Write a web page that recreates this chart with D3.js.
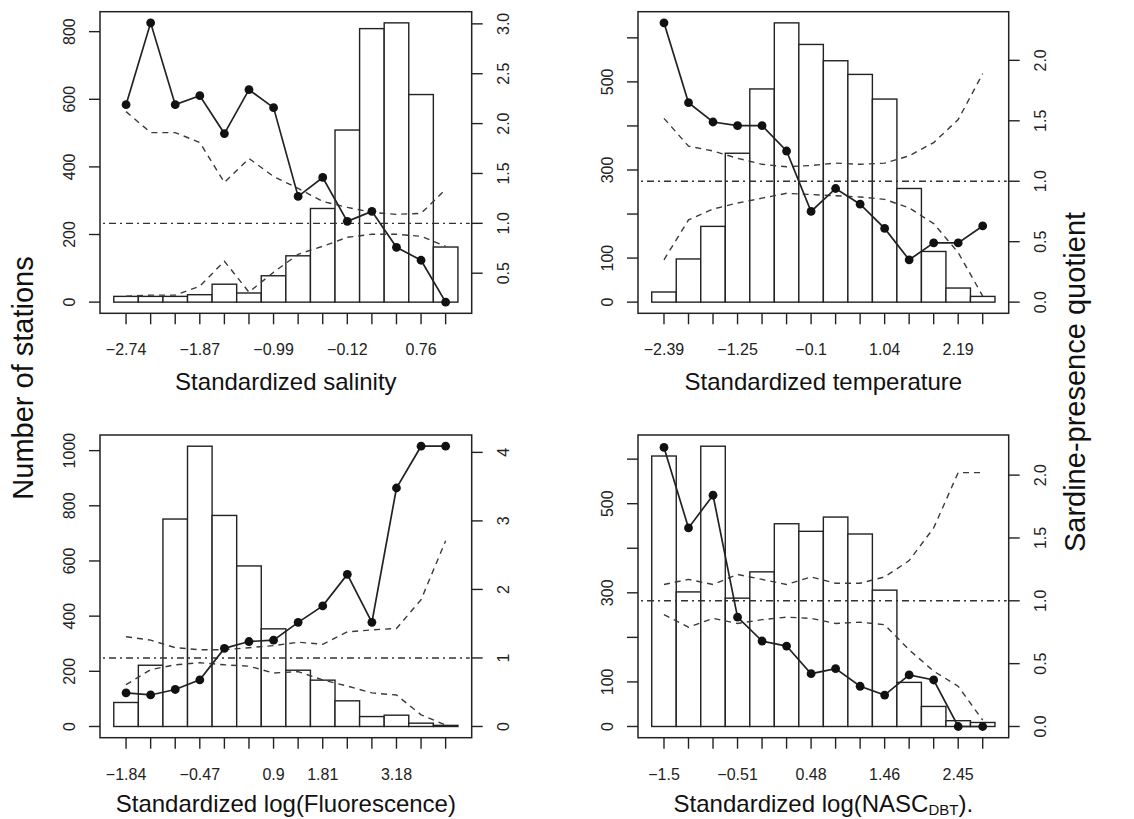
<!DOCTYPE html>
<html lang="en">
<head>
<meta charset="UTF-8">
<title>Sardine-presence quotient</title>
<script src="https://d3js.org/d3.v7.min.js"></script>
<style>
  body { margin: 0; background: #fff; }
  svg { font-family: "Liberation Sans", Arial, Helvetica, sans-serif; }
</style>
</head>
<body>
<div id="chart"></div>
<script>
// ---- data ----
// salinity
const salTicks = [-2.74, -2.45, -2.16, -1.87, -1.58, -1.29, -0.99, -0.70, -0.41, -0.12, 0.17, 0.47, 0.76, 1.05];
const salLabels = ["−2.74", "", "", "−1.87", "", "", "−0.99", "", "", "−0.12", "", "", "0.76", ""];
const salCounts = [17, 17, 17, 22, 53, 27, 78, 137, 277, 509, 809, 826, 614, 163];
const salQuot = [2.19, 3.01, 2.19, 2.28, 1.90, 2.34, 2.16, 1.27, 1.46, 1.02, 1.12, 0.76, 0.63, 0.21];
const salUpper = [2.12, 1.91, 1.91, 1.81, 1.41, 1.65, 1.47, 1.35, 1.22, 1.16, 1.11, 1.09, 1.10, 1.34];
const salLower = [0.27, 0.28, 0.28, 0.37, 0.62, 0.31, 0.51, 0.69, 0.77, 0.86, 0.89, 0.89, 0.87, 0.77];

// temperature
const tempTicks = [-2.39, -2.01, -1.63, -1.25, -0.87, -0.48, -0.10, 0.28, 0.66, 1.04, 1.42, 1.81, 2.19, 2.57];
const tempLabels = ["−2.39", "", "", "−1.25", "", "", "−0.1", "", "", "1.04", "", "", "2.19", ""];
const tempCounts = [23, 98, 172, 338, 484, 634, 585, 548, 517, 461, 258, 115, 32, 13];
const tempQuot = [2.31, 1.65, 1.49, 1.46, 1.46, 1.25, 0.75, 0.94, 0.81, 0.61, 0.35, 0.49, 0.49, 0.63];
const tempUpper = [1.52, 1.29, 1.25, 1.19, 1.14, 1.12, 1.13, 1.15, 1.14, 1.15, 1.21, 1.32, 1.51, 1.89];
const tempLower = [0.35, 0.68, 0.77, 0.82, 0.86, 0.90, 0.89, 0.88, 0.87, 0.85, 0.78, 0.65, 0.41, 0.05];

// fluorescence
const fluTicks = [-1.84, -1.38, -0.93, -0.47, -0.01, 0.44, 0.90, 1.36, 1.81, 2.27, 2.73, 3.18, 3.64, 4.10];
const fluLabels = ["−1.84", "", "", "−0.47", "", "", "0.9", "", "1.81", "", "", "3.18", "", ""];
const fluCounts = [87, 222, 752, 1016, 765, 582, 354, 204, 168, 93, 36, 41, 12, 4];
const fluQuot = [0.49, 0.46, 0.54, 0.68, 1.14, 1.24, 1.26, 1.52, 1.76, 2.22, 1.52, 3.48, 4.09, 4.09];
const fluUpper = [1.31, 1.26, 1.15, 1.12, 1.12, 1.15, 1.18, 1.23, 1.20, 1.38, 1.41, 1.43, 1.85, 2.71];
const fluLower = [0.61, 0.83, 0.90, 0.93, 0.90, 0.88, 0.78, 0.80, 0.68, 0.59, 0.49, 0.46, 0.17, 0.02];

// NASC
const nascTicks = [-1.50, -1.17, -0.84, -0.51, -0.18, 0.15, 0.48, 0.81, 1.13, 1.46, 1.79, 2.12, 2.45, 2.78];
const nascLabels = ["−1.5", "", "", "−0.51", "", "", "0.48", "", "", "1.46", "", "", "2.45", ""];
const nascCounts = [607, 302, 629, 288, 347, 455, 438, 470, 432, 306, 99, 45, 13, 9];
const nascQuot = [2.22, 1.58, 1.84, 0.87, 0.68, 0.64, 0.42, 0.46, 0.32, 0.25, 0.41, 0.37, 0.0, 0.0];
const nascUpper = [1.13, 1.17, 1.13, 1.21, 1.17, 1.13, 1.19, 1.14, 1.14, 1.19, 1.32, 1.58, 2.02, 2.02];
const nascLower = [0.89, 0.79, 0.86, 0.82, 0.85, 0.87, 0.86, 0.82, 0.83, 0.81, 0.61, 0.44, 0.32, 0.05];

// left (count) axis ticks and right (quotient) axis ticks
const countTicksA = [0, 200, 400, 600, 800];
const countTicksB = [0, 100, 200, 300, 400, 500, 600];
const countLabelsB = ["0", "100", "", "300", "", "500", ""];
const countTicksC = [0, 200, 400, 600, 800, 1000];
const quotTicksA = [0.5, 1.0, 1.5, 2.0, 2.5, 3.0];
const quotTicksB = [0.0, 0.5, 1.0, 1.5, 2.0];
const quotTicksC = [0, 1, 2, 3, 4];

const width = 1134, height = 819;
const ink = "#222";

const svg = d3.select("#chart").append("svg")
    .attr("width", width)
    .attr("height", height);

// R style axis range: data range stretched 4% each side
function rRange(lo, hi) {
    const e = (hi - lo) * 0.04;
    return [lo - e, hi + e];
}

function drawPanel(p) {
    const g = svg.append("g");
    const n = p.counts.length;

    const x = d3.scaleLinear()
        .domain(rRange(-0.5, n - 0.5))
        .range([p.left, p.right]);
    const yL = d3.scaleLinear()
        .domain(rRange(0, d3.max(p.counts)))
        .range([p.bottom, p.top]);
    const yR = d3.scaleLinear()
        .domain(rRange(p.quotLim[0], p.quotLim[1]))
        .range([p.bottom, p.top]);

    // histogram bars
    g.selectAll("rect.bar")
        .data(p.counts)
        .join("rect")
        .attr("class", "bar")
        .attr("x", (d, i) => x(i - 0.5))
        .attr("width", (d, i) => x(i + 0.5) - x(i - 0.5))
        .attr("y", d => yL(d))
        .attr("height", d => yL(0) - yL(d))
        .attr("fill", "#fff")
        .attr("stroke", ink)
        .attr("stroke-width", 1.4);

    // reference line at quotient = 1
    g.append("line")
        .attr("x1", p.left + 3).attr("x2", p.right - 2)
        .attr("y1", yR(1)).attr("y2", yR(1))
        .attr("stroke", "#333")
        .attr("stroke-width", 1.4)
        .attr("stroke-dasharray", "2,4,7,4");

    // confidence limits
    const line = d3.line().x((d, i) => x(i)).y(d => yR(d));
    [p.upper, p.lower].forEach(arr => {
        g.append("path")
            .attr("d", line(arr))
            .attr("fill", "none")
            .attr("stroke", "#3a3a3a")
            .attr("stroke-width", 1.4)
            .attr("stroke-dasharray", "6,5");
    });

    // quotient line + points
    g.append("path")
        .attr("d", line(p.quot))
        .attr("fill", "none")
        .attr("stroke", ink)
        .attr("stroke-width", 1.7);
    g.selectAll("circle")
        .data(p.quot)
        .join("circle")
        .attr("cx", (d, i) => x(i))
        .attr("cy", d => yR(d))
        .attr("r", 4.4)
        .attr("fill", "#111");

    // box
    g.append("rect")
        .attr("x", p.left).attr("y", p.top)
        .attr("width", p.right - p.left)
        .attr("height", p.bottom - p.top)
        .attr("fill", "none")
        .attr("stroke", ink)
        .attr("stroke-width", 1.5);

    const tickLen = 11;

    // x axis
    g.selectAll("line.xt")
        .data(p.ticks)
        .join("line")
        .attr("class", "xt")
        .attr("x1", (d, i) => x(i)).attr("x2", (d, i) => x(i))
        .attr("y1", p.bottom).attr("y2", p.bottom + tickLen)
        .attr("stroke", ink).attr("stroke-width", 1.4);
    g.selectAll("text.xl")
        .data(p.labels)
        .join("text")
        .attr("class", "xl")
        .attr("x", (d, i) => x(i))
        .attr("y", p.bottom + 42)
        .attr("text-anchor", "middle")
        .attr("font-size", 16)
        .attr("fill", ink)
        .text(d => d);

    // left axis
    g.selectAll("line.yl")
        .data(p.countTicks)
        .join("line")
        .attr("class", "yl")
        .attr("x1", p.left - tickLen).attr("x2", p.left)
        .attr("y1", d => yL(d)).attr("y2", d => yL(d))
        .attr("stroke", ink).attr("stroke-width", 1.4);
    g.selectAll("text.yll")
        .data(p.countTicks)
        .join("text")
        .attr("class", "yll")
        .attr("transform", d => `translate(${p.left - 25},${yL(d)}) rotate(-90)`)
        .attr("text-anchor", "middle")
        .attr("font-size", 16)
        .attr("fill", ink)
        .text((d, i) => p.countLabels ? p.countLabels[i] : d);

    // right axis
    g.selectAll("line.yr")
        .data(p.quotTicks)
        .join("line")
        .attr("class", "yr")
        .attr("x1", p.right).attr("x2", p.right + tickLen)
        .attr("y1", d => yR(d)).attr("y2", d => yR(d))
        .attr("stroke", ink).attr("stroke-width", 1.4);
    g.selectAll("text.yrl")
        .data(p.quotTicks)
        .join("text")
        .attr("class", "yrl")
        .attr("transform", d => `translate(${p.right + 37},${yR(d)}) rotate(-90)`)
        .attr("text-anchor", "middle")
        .attr("font-size", 16)
        .attr("fill", ink)
        .text(d => p.quotFmt(d));

    // x title
    const t = g.append("text")
        .attr("x", (p.left + p.right) / 2)
        .attr("y", p.bottom + p.titleGap)
        .attr("text-anchor", "middle")
        .attr("font-size", 24)
        .attr("fill", "#111");
    t.append("tspan").text(p.title);
    if (p.sub) {
        t.append("tspan").attr("font-size", 15).attr("dy", 3).text(p.sub);
        t.append("tspan").attr("dy", -3).text(p.titleEnd);
    }
}

const fmt1 = d3.format(".1f");
const fmt0 = d3.format("d");

drawPanel({
    left: 100, right: 471.7, top: 11.7, bottom: 313.3, titleGap: 77,
    ticks: salTicks, labels: salLabels, counts: salCounts,
    quot: salQuot, upper: salUpper, lower: salLower, quotLim: [0.21, 3.01],
    countTicks: countTicksA, quotTicks: quotTicksA, quotFmt: fmt1,
    title: "Standardized salinity"
});
drawPanel({
    left: 638, right: 1008.7, top: 11.7, bottom: 313.3, titleGap: 77,
    ticks: tempTicks, labels: tempLabels, counts: tempCounts,
    quot: tempQuot, upper: tempUpper, lower: tempLower, quotLim: [0, 2.31],
    countTicks: countTicksB, countLabels: countLabelsB, quotTicks: quotTicksB, quotFmt: fmt1,
    title: "Standardized temperature"
});
drawPanel({
    left: 100, right: 471.7, top: 435, bottom: 737.7, titleGap: 74,
    ticks: fluTicks, labels: fluLabels, counts: fluCounts,
    quot: fluQuot, upper: fluUpper, lower: fluLower, quotLim: [0, 4.09],
    countTicks: countTicksC, quotTicks: quotTicksC, quotFmt: fmt0,
    title: "Standardized log(Fluorescence)"
});
drawPanel({
    left: 638, right: 1008.7, top: 435, bottom: 737.7, titleGap: 74,
    ticks: nascTicks, labels: nascLabels, counts: nascCounts,
    quot: nascQuot, upper: nascUpper, lower: nascLower, quotLim: [0, 2.23],
    countTicks: countTicksB, countLabels: countLabelsB, quotTicks: quotTicksB, quotFmt: fmt1,
    title: "Standardized log(NASC", sub: "DBT", titleEnd: ")."
});

// outer axis titles
svg.append("text")
    .attr("transform", "translate(33,378) rotate(-90)")
    .attr("text-anchor", "middle")
    .attr("font-size", 29)
    .attr("fill", "#111")
    .text("Number of stations");
svg.append("text")
    .attr("transform", "translate(1085,382) rotate(-90)")
    .attr("text-anchor", "middle")
    .attr("font-size", 29)
    .attr("fill", "#111")
    .text("Sardine-presence quotient");
</script>
</body>
</html>
